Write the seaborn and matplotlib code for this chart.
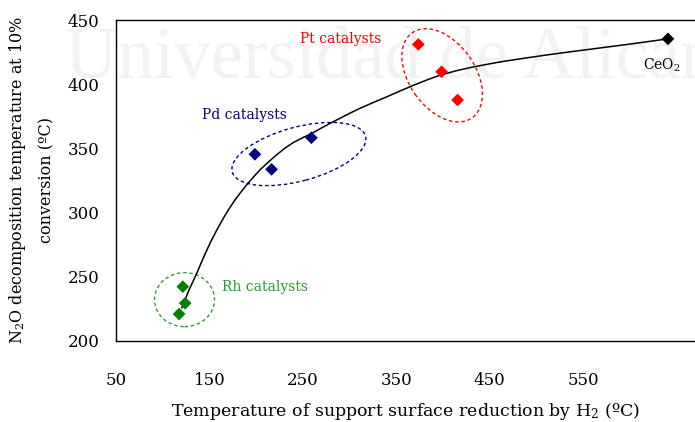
import matplotlib
matplotlib.use("Agg")
import matplotlib.pyplot as plt
import matplotlib.transforms as mtransforms
from matplotlib.patches import Ellipse
import seaborn as sns
import pandas as pd

# Support surface reduction temperature (x) vs. N2O decomposition T at 10% conversion (y)
rh_x = [121.5, 124.0, 117.5]
rh_y = [242.3, 229.4, 221.0]
pd_x = [198.7, 216.5, 259.2]
pd_y = [345.4, 333.7, 358.3]
pt_x = [373.7, 398.6, 415.7]
pt_y = [431.0, 409.7, 387.7]
ce_x = [641.0]
ce_y = [435.3]

# Trend curve traced through the series
curve_x = [120.4, 128.0, 136.4, 143.5, 150.6, 157.8, 164.9, 171.0, 177.3, 183.5,
           189.8, 197.0, 204.0, 213.0, 221.8, 230.5, 239.7, 249.5, 259.2, 270.0,
           280.5, 295.0, 309.0, 325.0, 341.0, 355.0, 369.4, 383.5, 397.9, 415.0,
           433.5, 460.0, 486.8, 513.5, 540.2, 567.0, 593.6, 617.0, 641.0]
curve_y = [225.7, 239.5, 252.7, 264.8, 276.1, 286.3, 295.6, 302.9, 309.8, 315.8,
           321.5, 327.6, 333.2, 339.3, 344.9, 350.0, 354.5, 358.2, 361.5, 365.9,
           370.0, 375.4, 380.5, 385.6, 390.5, 395.0, 399.4, 403.5, 407.2, 410.6,
           413.6, 417.2, 420.2, 423.0, 425.6, 428.1, 430.6, 432.9, 435.3]

groups = ["Rh", "Pd", "Pt", "CeO2"]
colors = {"Rh": "#008000", "Pd": "#000080", "Pt": "#ff0000", "CeO2": "#000000"}

x_ticks = [50, 150, 250, 350, 450, 550]
y_ticks = [200, 250, 300, 350, 400, 450]

points = pd.DataFrame({
    "x": rh_x + pd_x + pt_x + ce_x,
    "y": rh_y + pd_y + pt_y + ce_y,
    "group": ["Rh"] * 3 + ["Pd"] * 3 + ["Pt"] * 3 + ["CeO2"],
})
curve = pd.DataFrame({"x": curve_x, "y": curve_y})

sns.set_theme(style="white")
plt.rcParams["font.family"] = ["DejaVu Serif"]
plt.rcParams["mathtext.fontset"] = "dejavuserif"

fig = plt.figure(figsize=(6.95, 4.22), dpi=100)
ax = fig.add_axes([0.167, 0.192, 0.833, 0.7606])
ax.patch.set_facecolor("none")

# Faint background watermark
fig.text(0.094, 0.815, "Universidad de Alicante", fontsize=52.5, color="#f2f2f2",
         ha="left", va="baseline", zorder=-5, family="Liberation Serif")

sns.lineplot(data=curve, x="x", y="y", ax=ax, color="black", linewidth=1.1,
             sort=False, estimator=None, zorder=2)
sns.scatterplot(data=points, x="x", y="y", hue="group", hue_order=groups,
                palette=colors, marker="D", s=42, edgecolor="none",
                legend=False, ax=ax, zorder=3)

# Group outlines (centre in data, size in pixels)
def group_outline(cx, cy, w_px, h_px, angle, color):
    tr = fig.dpi_scale_trans + mtransforms.ScaledTranslation(cx, cy, ax.transData)
    e = Ellipse((0, 0), w_px / 100, h_px / 100, angle=angle, transform=tr,
                fill=False, edgecolor=color, linestyle=(0, (2.5, 2)), linewidth=1.0)
    ax.add_artist(e)

group_outline(123.3, 232.2, 60, 54, 0, "#2e9a2e")
group_outline(245.8, 345.6, 138, 54, 15, "#000080")
group_outline(399.2, 406.9, 104, 66, -55, "#ff0000")

ax.text(163, 242, "Rh catalysts", color="#2e9a2e", fontsize=10, ha="left", va="center")
ax.text(142, 376, "Pd catalysts", color="#000080", fontsize=10, ha="left", va="center")
ax.text(334, 435, "Pt catalysts", color="#ff0000", fontsize=10, ha="right", va="center")
ax.text(634, 415, "CeO$_2$", color="black", fontsize=10, ha="center", va="center")

ax.set_xlim(50, 670)
ax.set_ylim(200, 450)
ax.set_xticks(x_ticks)
ax.set_yticks(y_ticks)
ax.tick_params(axis="both", which="major", direction="out", length=5, width=1,
               color="black", labelsize=12, labelcolor="black", pad=7)
ax.tick_params(axis="x", pad=17)

for side in ["left", "bottom", "top"]:
    ax.spines[side].set_color("black")
    ax.spines[side].set_linewidth(1.0)
ax.spines["right"].set_visible(False)

ax.set_xlabel("Temperature of support surface reduction by H$_2$ (ºC)", fontsize=12.5,
              color="black", labelpad=9)
ax.set_ylabel("N$_2$O decomposition temperature at 10%\nconversion (ºC)", fontsize=11.5,
              color="black", labelpad=9, linespacing=1.75)

fig.savefig("out.png", dpi=100)
